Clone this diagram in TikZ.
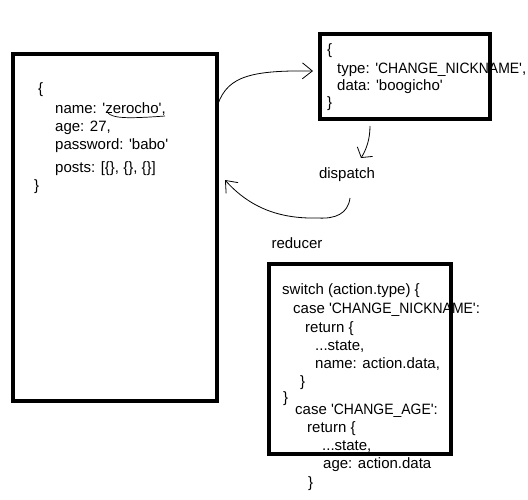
\documentclass[tikz,border=0pt]{standalone}
\usepackage{fontspec}
\newfontfamily\codefont{Liberation Sans}
\newfontfamily\capsfont{Liberation Sans}[FakeStretch=0.93]
\newcommand{\capsname}[1]{{\capsfont #1}}
\usetikzlibrary{arrows.meta}
\begin{document}
\begin{tikzpicture}[x=1pt,y=-1pt,
  frame/.style={draw=black, line width=4pt, inner sep=0pt, fill=none},
  code/.style={anchor=base west, inner sep=0pt, font=\codefont\fontsize{15}{18}\selectfont},
  label/.style={inner sep=0pt, font=\codefont\fontsize{15}{18}\selectfont},
  hand/.style={line width=0.8pt, -{Straight Barb[length=10pt,width=16pt]}}]
\useasboundingbox (0,0) rectangle (528,499);

% boxes: state, action, reducer
\node[frame, minimum width=204pt, minimum height=347pt] (state) at (115,227.5) {};
\node[frame, minimum width=170pt, minimum height=85pt] (action) at (405,76) {};
\node[frame, minimum width=182pt, minimum height=190pt] (reducer) at (360,358.5) {};

% state object
\node[code] (s1) at (38,93) {\{};
\node[code] (s2) at (55,113) {name: 'zerocho',};
\node[code] (s3) at (55,131) {age: 27,};
\node[code] (s4) at (55,149) {password: 'babo'};
\node[code] (s5) at (55,172) {posts: [\{\}, \{\}, \{\}]};
\node[code] (s6) at (34,190) {\}};
% hand-drawn underline under the name value
\draw[line width=0.7pt] (108,113) .. controls (113,118) and (125,119) .. (165,116);

% action object
\node[code] (a1) at (327,54) {\{};
\node[code] (a2) at (337,73) {type: '\capsname{CHANGE\_NICKNAME}',};
\node[code] (a3) at (337,90) {data: 'boogicho'};
\node[code] (a4) at (327,107) {\}};

% labels
\node[label] (dispatch) at (347,175) {dispatch};
\node[label] (reducerlabel) at (297,243) {reducer};

% reducer body
\node[code] (r1) at (282,294) {switch (action.type) \{};
\node[code] (r2) at (293,313) {case '\capsname{CHANGE\_NICKNAME}':};
\node[code] (r3) at (305,332) {return \{};
\node[code] (r4) at (315,350) {...state,};
\node[code] (r5) at (315,368) {name: action.data,};
\node[code] (r6) at (300,386) {\}};
\node[code] (r7) at (283,402) {\}};
\node[code] (r8) at (295,414) {case '\capsname{CHANGE\_AGE}':};
\node[code] (r9) at (307,432) {return \{};
\node[code] (r10) at (322,450) {...state,};
\node[code] (r11) at (323,468) {age: action.data};
\node[code] (r12) at (308,487) {\}};

% connector ends
\coordinate (c1s) at (216,110);
\coordinate (c1e) at (313,71);
\coordinate (c2s) at (370,126);
\coordinate (c2e) at (361,158);
\coordinate (c3s) at (350,198);
\coordinate (c3m) at (318,218);
\coordinate (c3e) at (225,180);

% state -> action
\draw[hand] (c1s) .. controls (225,78) and (245,70) .. (c1e);
% action -> dispatch
\draw[hand, -{Straight Barb[length=7pt,width=18pt]}] (c2s) .. controls (370,140) and (366,150) .. (c2e);
% dispatch -> state
\draw[hand] (c3s) .. controls (348,214) and (335,219) .. (c3m)
  .. controls (280,219) and (250,208) .. (c3e);
\end{tikzpicture}
\end{document}
